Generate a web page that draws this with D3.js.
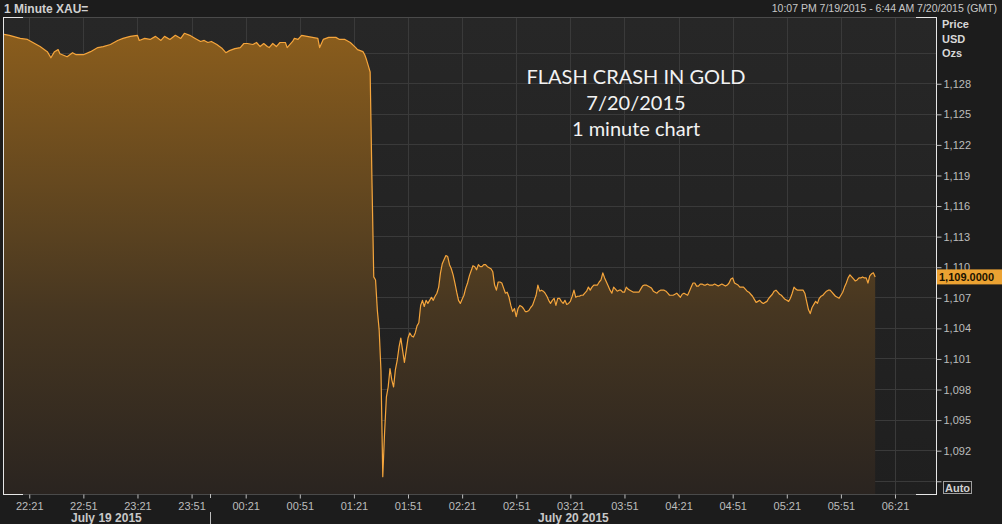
<!DOCTYPE html>
<html lang="en">
<head>
<meta charset="UTF-8">
<title>Flash crash in gold</title>
<script src="https://d3js.org/d3.v7.min.js"></script>
<style>
  body { margin: 0; background: #1c1c1c; }
  svg { display: block; font-family: "Liberation Sans", Arial, sans-serif; }
</style>
</head>
<body>
<script>
// readings before the crash (sparse)
var preTimes = [
  "22:07","22:10","22:16","22:20","22:23","22:27","22:31","22:33","22:35","22:37",
  "22:38","22:42","22:45","22:47","22:51","22:55","22:59","23:02","23:06","23:10",
  "23:13","23:17","23:21","23:22","23:25","23:28","23:31","23:34","23:36","23:39",
  "23:42","23:45","23:47","23:50","23:53","23:56","23:58","00:00","00:02","00:05",
  "00:08","00:10","00:12","00:15","00:18","00:20","00:22","00:25","00:27","00:29",
  "00:31","00:33","00:34","00:36","00:38","00:40","00:43","00:44","00:47","00:48",
  "00:50","00:52","00:55","00:58","01:01","01:02","01:04","01:07","01:11","01:13",
  "01:16","01:19","01:22","01:23","01:26","01:27","01:28","01:29"
];
var prePrices = [
  1132.8, 1132.7, 1132.4, 1132.3, 1132.0, 1131.6, 1131.1, 1130.5, 1131.1, 1131.3,
  1130.9, 1130.6, 1131.0, 1130.8, 1130.8, 1131.1, 1131.5, 1131.6, 1131.8, 1132.2,
  1132.4, 1132.6, 1132.7, 1132.2, 1132.4, 1132.3, 1132.6, 1132.2, 1132.6, 1132.3,
  1132.7, 1132.4, 1132.9, 1132.7, 1132.4, 1132.1, 1132.2, 1132.0, 1132.1, 1131.8,
  1131.4, 1131.0, 1131.2, 1131.4, 1131.5, 1131.9, 1131.9, 1131.8, 1132.0, 1131.6,
  1131.9, 1131.6, 1131.5, 1131.9, 1131.6, 1132.0, 1132.0, 1131.5, 1132.1, 1132.4,
  1132.3, 1132.7, 1132.6, 1132.5, 1132.4, 1131.5, 1132.3, 1132.5, 1132.5, 1132.3,
  1132.3, 1132.0, 1131.5, 1131.3, 1131.1, 1130.8, 1130.3, 1129.7
];

// one close per minute from 01:30 on
var minuteStart = "01:30";
var minutePrices = [
  1129.1, 1118.5, 1109.0, 1108.7, 1105.7, 1103.8, 1099.8, 1089.4, 1093.7, 1097.2,
  1098.2, 1100.0, 1098.9, 1098.2, 1099.9, 1100.8, 1102.1, 1103.0, 1101.8, 1100.6,
  1101.8, 1103.0, 1103.5, 1103.2, 1103.1, 1103.5, 1104.2, 1104.5, 1106.2, 1106.7,
  1106.1, 1106.7, 1106.4, 1106.7, 1107.0, 1106.7, 1107.1, 1107.4, 1108.0, 1109.4,
  1110.3, 1110.7, 1111.1, 1111.0, 1110.2, 1109.8, 1109.2, 1108.4, 1107.5, 1106.7,
  1106.4, 1106.8, 1107.2, 1107.9, 1108.4, 1109.1, 1109.6, 1110.1, 1110.0, 1109.7,
  1110.2, 1110.0, 1110.0, 1110.2, 1110.2, 1110.0, 1109.9, 1109.8, 1109.5, 1108.2,
  1107.7, 1108.5, 1108.5, 1108.4, 1107.9, 1107.4, 1107.5, 1107.0, 1106.2, 1105.6,
  1105.9, 1105.1, 1105.9, 1106.2, 1106.1, 1105.9, 1105.6, 1105.6, 1105.7, 1106.0,
  1106.2, 1106.7, 1107.2, 1108.2, 1107.6, 1107.7, 1107.6, 1107.4, 1107.1, 1106.7,
  1106.4, 1106.7, 1106.9, 1106.2, 1106.9, 1106.9, 1106.6, 1106.4, 1106.7, 1106.3,
  1106.4, 1106.6, 1107.1, 1107.7, 1107.0, 1107.1, 1107.1, 1107.2, 1107.2, 1107.4,
  1107.6, 1108.0, 1107.7, 1108.0, 1108.2, 1108.2, 1108.2, 1108.5, 1108.7, 1109.4,
  1108.9, 1108.5, 1108.1, 1107.7, 1107.4, 1108.0, 1107.8, 1107.6, 1107.7, 1107.7,
  1107.5, 1107.5, 1108.0, 1107.8, 1107.7, 1107.6, 1107.5, 1107.5, 1107.5, 1107.5,
  1107.8, 1108.1, 1108.2, 1108.2, 1108.1, 1108.0, 1107.9, 1107.6, 1107.5, 1107.4,
  1107.6, 1107.7, 1107.7, 1107.7, 1107.6, 1107.4, 1107.2, 1107.2, 1107.2, 1107.3,
  1107.4, 1107.2, 1107.0, 1107.3, 1107.4, 1107.3, 1107.2, 1107.6, 1108.0, 1108.4,
  1108.4, 1108.1, 1108.1, 1108.3, 1108.3, 1108.2, 1108.2, 1108.3, 1108.2, 1108.2,
  1108.2, 1108.3, 1108.2, 1108.1, 1108.2, 1108.3, 1108.2, 1108.1, 1108.2, 1108.4,
  1108.8, 1108.9, 1108.4, 1108.3, 1108.2, 1108.0, 1108.0, 1108.0, 1107.8, 1107.6,
  1107.5, 1107.3, 1107.1, 1106.8, 1106.5, 1106.6, 1106.7, 1106.5, 1106.4, 1106.5,
  1106.6, 1106.9, 1107.1, 1107.3, 1107.6, 1107.7, 1107.5, 1107.3, 1107.2, 1107.0,
  1106.8, 1106.7, 1106.6, 1106.9, 1107.4, 1108.0, 1107.8, 1107.7, 1107.7, 1107.7,
  1107.7, 1107.4, 1106.6, 1105.8, 1105.4, 1106.0, 1106.3, 1106.6, 1106.4, 1106.9,
  1107.1, 1107.2, 1107.4, 1107.6, 1107.7, 1107.7, 1107.5, 1107.3, 1107.1, 1107.0,
  1106.9, 1107.2, 1107.5, 1108.0, 1108.4, 1108.9, 1109.2, 1109.0, 1108.8, 1108.6,
  1108.7, 1108.9, 1108.9, 1109.0, 1108.9, 1108.9, 1108.4, 1109.1, 1109.3, 1109.4,
  1109.0
];

var xTicks = ["22:21","22:51","23:21","23:51","00:21","00:51","01:21","01:51","02:21",
              "02:51","03:21","03:51","04:21","04:51","05:21","05:51","06:21"];
var yTicks = [1089, 1092, 1095, 1098, 1101, 1104, 1107, 1110, 1113, 1116, 1119, 1122, 1125, 1128, 1131];
var yLabelTicks = [1092, 1095, 1098, 1101, 1104, 1107, 1110, 1113, 1116, 1119, 1122, 1125, 1128];
var dateLabels = ["July 19 2015", "July 20 2015"];
var titleLines = ["FLASH CRASH IN GOLD", "7/20/2015", "1 minute chart"];
var unitLines = ["Price", "USD", "Ozs"];
var headerLeft = "1 Minute XAU=";
var headerRight = "10:07 PM 7/19/2015 - 6:44 AM 7/20/2015 (GMT)";
var rangeStart = "22:07", rangeEnd = "06:44";
var lastPrice = 1109;

var width = 1002, height = 524;
var pLeft = 3, pRight = 937, pTop = 17, pBottom = 494;

// times after noon belong to July 19, the rest to July 20
function toDate(s) {
  var p = s.split(":"), h = +p[0], m = +p[1];
  return new Date(2015, 6, h >= 12 ? 19 : 20, h, m);
}

var data = preTimes.map(function (t, i) { return { t: toDate(t), p: prePrices[i] }; });
var t0 = toDate(minuteStart).getTime();
minutePrices.forEach(function (p, i) { data.push({ t: new Date(t0 + i * 60000), p: p }); });

var x = d3.scaleTime().domain([toDate(rangeStart), toDate(rangeEnd)]).range([4, 936.5]);
var y = d3.scaleLinear().domain([1087.7, 1134.5]).range([pBottom, pTop]);

var svg = d3.select("body").append("svg")
  .attr("width", width).attr("height", height);

var defs = svg.append("defs");
var bg = defs.append("linearGradient").attr("id", "bg")
  .attr("x1", 0).attr("y1", 0).attr("x2", 0).attr("y2", 1);
bg.append("stop").attr("offset", 0).attr("stop-color", "#272727");
bg.append("stop").attr("offset", 1).attr("stop-color", "#1f1f1f");

var fillGrad = defs.append("linearGradient").attr("id", "fillGrad")
  .attr("gradientUnits", "userSpaceOnUse")
  .attr("x1", 0).attr("y1", pTop).attr("x2", 0).attr("y2", pBottom);
fillGrad.append("stop").attr("offset", 0).attr("stop-color", "#8e5f1c");
fillGrad.append("stop").attr("offset", 0.45).attr("stop-color", "#5a4220");
fillGrad.append("stop").attr("offset", 0.62).attr("stop-color", "#463621");
fillGrad.append("stop").attr("offset", 1).attr("stop-color", "#2a2420");

defs.append("clipPath").attr("id", "plotClip")
  .append("rect").attr("x", pLeft).attr("y", pTop)
  .attr("width", pRight - pLeft).attr("height", pBottom - pTop);

svg.append("rect").attr("width", width).attr("height", height).attr("fill", "#1c1c1c");
svg.append("rect").attr("x", pLeft).attr("y", pTop)
  .attr("width", pRight - pLeft).attr("height", pBottom - pTop).attr("fill", "url(#bg)");

// grid
var grid = svg.append("g").attr("stroke", "#3a3a3a").attr("stroke-width", 1);
grid.selectAll(".vg").data(xTicks).enter().append("line")
  .attr("x1", function (d) { return Math.round(x(toDate(d))) + 0.5; })
  .attr("x2", function (d) { return Math.round(x(toDate(d))) + 0.5; })
  .attr("y1", pTop).attr("y2", pBottom);
grid.selectAll(".hg").data(yTicks).enter().append("line")
  .attr("x1", pLeft).attr("x2", pRight)
  .attr("y1", function (d) { return Math.round(y(d)) + 0.5; })
  .attr("y2", function (d) { return Math.round(y(d)) + 0.5; });

var plot = svg.append("g").attr("clip-path", "url(#plotClip)");
plot.append("path").datum(data)
  .attr("fill", "url(#fillGrad)")
  .attr("d", d3.area().x(function (d) { return x(d.t); }).y0(pBottom).y1(function (d) { return y(d.p); }));
plot.append("path").datum(data)
  .attr("fill", "none").attr("stroke", "#f5a53c").attr("stroke-width", 1.2)
  .attr("stroke-linejoin", "round")
  .attr("d", d3.line().x(function (d) { return x(d.t); }).y(function (d) { return y(d.p); }));

// frame
var frame = svg.append("g");
frame.append("line").attr("x1", pLeft).attr("x2", pRight).attr("y1", pTop + 0.5).attr("y2", pTop + 0.5).attr("stroke", "#4a4a4a");
frame.append("line").attr("x1", pLeft).attr("x2", pRight).attr("y1", pBottom + 0.5).attr("y2", pBottom + 0.5).attr("stroke", "#4a4a4a");
[[pLeft, pLeft + 20, pTop + 0.5], [pRight - 21, pRight, pTop + 0.5], [pLeft, pLeft + 20, pBottom + 0.5], [pRight - 21, pRight, pBottom + 0.5]]
  .forEach(function (s) {
    frame.append("line").attr("x1", s[0]).attr("x2", s[1]).attr("y1", s[2]).attr("y2", s[2]).attr("stroke", "#e6e6e6");
  });
frame.append("line").attr("x1", pLeft + 0.5).attr("x2", pLeft + 0.5).attr("y1", pTop).attr("y2", pBottom + 1).attr("stroke", "#e6e6e6");
frame.append("line").attr("x1", pRight - 0.5).attr("x2", pRight - 0.5).attr("y1", pTop).attr("y2", pBottom + 1).attr("stroke", "#e6e6e6");

// y axis
var yAxis = svg.append("g").attr("transform", "translate(" + (pRight - 0.5) + ",0.5)")
  .call(d3.axisRight(y).tickValues(yLabelTicks.concat([1089]))
    .tickFormat(function (d) { return d === 1089 ? "" : d3.format(",")(d); })
    .tickSize(5).tickPadding(2));
yAxis.select(".domain").remove();
yAxis.selectAll("line").attr("stroke", "#bdbdbd");
yAxis.selectAll("text").attr("fill", "#bdbdbd").attr("font-size", 11)
  .attr("font-family", "'Liberation Sans', Arial, sans-serif");

// x axis
var xAxis = svg.append("g").attr("transform", "translate(0," + (pBottom + 0.5) + ")")
  .call(d3.axisBottom(x).tickValues(xTicks.map(toDate))
    .tickFormat(d3.timeFormat("%H:%M")).tickSize(4).tickPadding(4));
xAxis.select(".domain").remove();
xAxis.selectAll("line").attr("stroke", "#bdbdbd");
xAxis.selectAll("text").attr("fill", "#bdbdbd").attr("font-size", 11)
  .attr("font-family", "'Liberation Sans', Arial, sans-serif");

// day separator and date labels
var midnight = x(new Date(2015, 6, 20, 0, 0)) + 2;
svg.append("line").attr("x1", Math.round(midnight) + 0.5).attr("x2", Math.round(midnight) + 0.5)
  .attr("y1", pBottom).attr("y2", pBottom + 4).attr("stroke", "#bdbdbd");
svg.append("line").attr("x1", Math.round(midnight) + 0.5).attr("x2", Math.round(midnight) + 0.5)
  .attr("y1", 512).attr("y2", height).attr("stroke", "#bdbdbd");
var dayCenters = [(pLeft + midnight) / 2, (midnight + pRight) / 2];
svg.selectAll(".day").data(dateLabels).enter().append("text")
  .attr("x", function (d, i) { return dayCenters[i]; }).attr("y", 521.5)
  .attr("text-anchor", "middle").attr("font-size", 12).attr("font-weight", "bold")
  .attr("fill", "#c8c8c8").text(function (d) { return d; });

// headers
svg.append("text").attr("x", 4).attr("y", 12.5).attr("font-size", 12).attr("font-weight", "bold")
  .attr("fill", "#d0d0d0").text(headerLeft);
svg.append("text").attr("x", 997).attr("y", 12).attr("text-anchor", "end").attr("font-size", 10.5)
  .attr("fill", "#c8c8c8").text(headerRight);
svg.selectAll(".unit").data(unitLines).enter().append("text")
  .attr("x", 942).attr("y", function (d, i) { return 28 + i * 14.5; })
  .attr("font-size", 11).attr("font-weight", "bold").attr("fill", "#d8d8d8")
  .text(function (d) { return d; });

// last price tag
var yl = y(lastPrice);
svg.append("rect").attr("x", pRight).attr("y", yl - 7.5).attr("width", width - pRight).attr("height", 15)
  .attr("fill", "#eba232");
svg.append("text").attr("x", 939).attr("y", yl + 4).attr("font-size", 11).attr("font-weight", "bold")
  .attr("fill", "#1c1200").text(d3.format(",.4f")(lastPrice));

// auto button
svg.append("rect").attr("x", 943.5).attr("y", 481.5).attr("width", 28).attr("height", 12)
  .attr("fill", "#1c1c1c").attr("stroke", "#a0a0a0");
svg.append("text").attr("x", 957.5).attr("y", 491.5).attr("text-anchor", "middle")
  .attr("font-size", 11).attr("font-weight", "bold").attr("fill", "#d0d0d0").text("Auto");

// title
svg.selectAll(".title").data(titleLines).enter().append("text")
  .attr("x", 636).attr("y", function (d, i) { return 84 + i * 26; })
  .attr("text-anchor", "middle").attr("font-family", "Lato, 'Liberation Sans', sans-serif")
  .attr("font-size", 20).attr("fill", "#f2f2f2")
  .text(function (d) { return d; });
</script>
</body>
</html>
